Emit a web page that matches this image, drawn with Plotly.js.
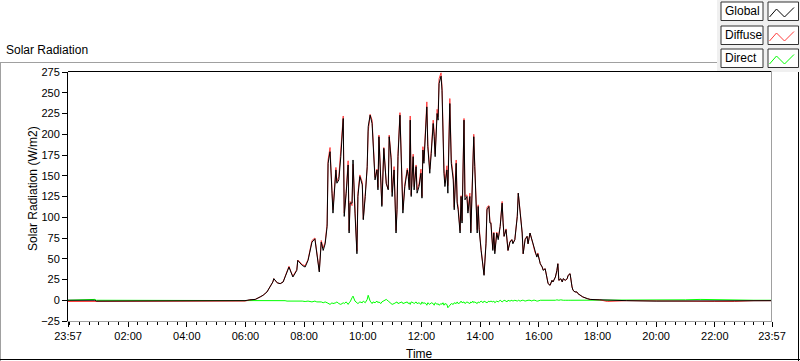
<!DOCTYPE html>
<html><head><meta charset="utf-8">
<script src="https://cdn.plot.ly/plotly-3.0.1.min.js"></script>
<style>html,body{margin:0;padding:0;background:#fff}#chart{width:800px;height:361px}</style>
</head><body><div id="chart"></div><script>
// time in minutes after midnight (23:57 of the previous day = -3)
const timeMin = [
 -3,30,52,55,120,240,300,340,359,
 369,380,390,396,404,410,416,418,425,431,
 437,441,445,449,453,457,465,467,476,482,
 488,496,502,506,511,515,519,523,527,529,
 533,537,539,545,547,551,555,560,562,566,
 570,572,574,578,580,584,588,590,594,599,
 601,605,609,611,615,619,621,625,629,631,
 633,637,639,643,648,652,654,658,660,664,
 668,670,672,676,680,682,686,691,693,695,
 697,699,703,705,709,711,715,719,721,723,
 725,729,731,733,737,740,744,746,748,752,
 754,756,760,762,764,766,768,772,774,778,
 781,785,787,791,793,795,799,801,803,807,
 809,813,815,819,821,823,825,827,829,834,
 836,838,842,844,846,848,852,854,858,860,
 862,866,868,870,874,877,881,885,887,889,
 893,895,897,901,905,907,911,916,918,922,
 926,928,932,936,938,942,946,948,952,956,
 958,963,967,969,973,977,979,983,987,989,
 994,997,999,1001,1005,1008,1010,1014,1018,1020,
 1024,1028,1030,1034,1038,1040,1044,1048,1050,1059,
 1065,1085,
 1100,1140,1200,1245,1260,1290,1320,1360,1400,1437
];
const globalW = [
 0,0,0,-1,-1,-1,-1,-1,-0.5,
 0.5,1,4,6,10,16,22,26,21,20,
 22,28,34,40,34,28,36,48,42,40,
 48,70,74,54,34,70,60,68,89,165,
 179,129,105,157,141,145,173,219,101,129,
 163,81,117,117,169,105,56,125,149,139,
 97,125,161,209,223,213,185,145,157,133,
 197,125,113,183,141,133,197,169,125,157,
 81,109,173,223,145,105,137,157,149,133,
 217,125,173,133,161,129,137,153,123,181,
 165,209,233,185,153,177,213,197,173,225,
 217,261,270,253,185,153,137,157,129,237,
 165,145,109,165,117,109,81,125,93,217,
 121,125,105,125,81,117,169,197,161,81,
 113,85,60,48,36,30,68,109,113,93,
 93,60,81,56,81,73,89,117,93,77,
 85,68,60,70,73,68,73,101,129,105,
 81,56,73,77,68,81,73,68,58,52,
 56,44,40,36,38,24,20,18,24,22,
 28,36,44,24,26,22,26,24,26,30,
 32,16,12,10,10,8,6,4,4,2,
 1,0.5,
 0,-0.5,-1,-1,-0.5,-1,-1,-1,-0.5,-0.5
];
const diffuseW = [
 -1.5,-1.5,-1.5,-1,-1,-1,-1,-1,-1,
 0.5,1,4,6,10,16,22,26,21,20,
 22,28.5,35,41,34.5,29,37,48.5,43,41.5,
 49,72,75,56,35.5,72,63,70,92,169,
 184,132,109,160,143,149,178,222,105,131,
 168,84,119,114,164,106,59,129,151,142,
 98,128,160,203,224,217,187,148,158,136,
 199,129,115,184,140,134,199,172,130,161,
 84,111,177,226,147,109,140,159,153,136,
 222,127,176,137,163,133,140,158,125,185,
 168,213,239,188,158,180,217,203,176,230,
 221,267,274,258,188,159,141,162,138,243,
 169,150,112,169,119,113,84,126,96,219,
 125,127,108,129,83,120,170,200,163,85,
 115,88,61,50,39,31,70,112,114,95,
 94,62,82,59,82,75,89,119,94,77,
 86,70,60,71,73,69,73,102,129,106,
 81,56,74,77,68,81,74,68,58,53,
 57,44,40,36.5,38,24,20.5,18,24,22,
 28,35.5,44,24,25.5,22,26,24,25.5,30,
 32,16,12,10,10,8,6,4,4,2,
 1,0.5,
 -1.5,-0.5,-1,-1.5,-1.5,-1.5,-1.5,-1.5,-0.5,-0.5
];
const directW = [
 0,1,1,0,0,0,0,0,0,
 0,0,0,0,0,0,0,0,0,0,
 0,-0.5,-1,-1,-0.5,-1,-1,-0.5,-1,-1.5,
 -1,-2,-1,-2,-1.5,-2,-3,-2,-3,-4,
 -5,-3,-4,-3,-2,-4,-5,-3,-4,-2,
 -5,-3,-2,3,5,-1,-3,-4,-2,-3,
 -1,-3,1,6,-1,-4,-2,-3,-1,-3,
 -2,-4,-2,-1,1,-1,-2,-3,-5,-4,
 -3,-2,-4,-3,-2,-4,-3,-2,-4,-3,
 -5,-2,-3,-4,-2,-4,-3,-5,-2,-4,
 -3,-4,-6,-3,-5,-3,-4,-6,-3,-5,
 -4,-6,-4,-5,-3,-6,-4,-5,-9,-6,
 -4,-5,-3,-4,-2,-4,-3,-1,-3,-2,
 -4,-2,-3,-4,-2,-3,-1,-3,-2,-4,
 -2,-3,-1,-2,-3,-1,-2,-3,-1,-2,
 -1,-2,-1,-3,-1,-2,0,-2,-1,0,
 -1,-2,0,-1,0,-1,0,-1,0,-1,
 0,0,-1,0,0,0,-1,0,0,-1,
 -1,0,0,-0.5,0,0,-0.5,0,0,0,
 0,0.5,0,0,0.5,0,0,0,0.5,0,
 0,0,0,0,0,0,0,0,0,0,
 0,0,
 0,0,0,0,0.5,1,0.5,0,0,0
];
const seriesNames = ['Global','Diffuse','Direct'];
const seriesColors = ['#000000','#ff3c3c','#00ff00'];
const xTickVals = [-3,120,240,360,480,600,720,840,960,1080,1200,1320,1437];
const xTickText = ['23:57','02:00','04:00','06:00','08:00','10:00','12:00','14:00','16:00','18:00','20:00','22:00','23:57'];
const chartTitle = 'Solar Radiation';
const yTitle = 'Solar Radiation (W/m2)';
const xTitle = 'Time';

const L=68, R=772, T=72, B=321;
function px(X){return (X-L)/(R-L);}
function py(Y){return (B-Y)/(B-T);}
const FONT = 'Liberation Sans, Arial, sans-serif';

const traces = [
 {x: timeMin, y: directW, name: seriesNames[2], mode:'lines', line:{color:seriesColors[2], width:1}},
 {x: timeMin, y: diffuseW, name: seriesNames[1], mode:'lines', line:{color:seriesColors[1], width:1}},
 {x: timeMin, y: globalW, name: seriesNames[0], mode:'lines', line:{color:seriesColors[0], width:1}}
];

function hline(x0,x1,y,color){return {type:'line',xref:'paper',yref:'paper',x0:px(x0),x1:px(x1),y0:py(y),y1:py(y),line:{color:color,width:1},layer:'above'};}
function vline(x,y0,y1,color){return {type:'line',xref:'paper',yref:'paper',x0:px(x),x1:px(x),y0:py(y0),y1:py(y1),line:{color:color,width:1},layer:'above'};}
function rect(x0,y0,x1,y1,fill,lc){return {type:'rect',xref:'paper',yref:'paper',x0:px(x0),x1:px(x1),y0:py(y1),y1:py(y0),fillcolor:fill,line:{color:lc||'rgba(0,0,0,0)',width:lc?1:0},layer:'below'};}

const shapes = [
 hline(0,717,62.5,'#a0a0a0'),
 vline(0.5,62,361,'#a0a0a0'),
 hline(0,800,359.5,'#000000'),
 vline(798.5,72,361,'#000000'),
 hline(68,772,71.5,'#000000'),
 vline(771.5,71,322,'#a0a0a0'),
 rect(717,0,800,72,'#f0f0f0')
];
const annotations = [
 {text: chartTitle, x:px(4), y:py(50), xref:'paper', yref:'paper', xanchor:'left', yanchor:'middle', showarrow:false, font:{family:FONT,size:12,color:'#000'}},
 {text: yTitle, x:px(33), y:py(189), xref:'paper', yref:'paper', xanchor:'center', yanchor:'middle', textangle:-90, showarrow:false, font:{family:FONT,size:12,color:'#000'}},
 {text: xTitle, x:px(419), y:py(354), xref:'paper', yref:'paper', xanchor:'center', yanchor:'middle', showarrow:false, font:{family:FONT,size:12,color:'#000'}}
];
const boxTops = [2,26,49];
const boxH = 18.5;
for (let i=0;i<3;i++){
 const y0 = boxTops[i];
 const lb = {type:'rect',xref:'paper',yref:'paper',x0:px(721),x1:px(763),y0:py(y0+boxH),y1:py(y0),fillcolor:'#ffffff',line:{color:'#333',width:1},layer:'above'};
 const sw = {type:'rect',xref:'paper',yref:'paper',x0:px(768),x1:px(798.5),y0:py(y0+boxH),y1:py(y0),fillcolor:'#ffffff',line:{color:'#333',width:1},layer:'above'};
 shapes.push(lb, sw);
 const pts = [[769.5,y0+15],[776.5,y0+7],[784.5,y0+15],[794,y0+5.5]];
 const path = 'M' + pts.map(p=>px(p[0])+','+py(p[1])).join(' L');
 shapes.push({type:'path',xref:'paper',yref:'paper',path:path,line:{color:seriesColors[i],width:1},layer:'above'});
 annotations.push({text: seriesNames[i], x:px(723), y:py(y0+boxH/2), xref:'paper', yref:'paper', xanchor:'left', yanchor:'middle', showarrow:false, font:{family:FONT,size:12,color:'#000'}});
}

const layout = {
 width:800, height:361,
 margin:{l:L, r:800-R, t:T, b:361-B, pad:0},
 paper_bgcolor:'#ffffff', plot_bgcolor:'#ffffff',
 showlegend:false,
 font:{family:FONT, size:11, color:'#000'},
 xaxis:{
  range:[-3,1437], tickmode:'array', tickvals:xTickVals, ticktext:xTickText,
  ticks:'outside', ticklen:5, tickcolor:'#000', tickwidth:1,
  showgrid:false, zeroline:false, showline:true, linecolor:'#a0a0a0', linewidth:1,
  minor:{tickmode:'linear', tick0:0, dtick:20, ticks:'outside', ticklen:3, tickcolor:'#000', showgrid:false},
  tickfont:{family:FONT,size:11,color:'#000'}
 },
 yaxis:{
  range:[-25,275], tickmode:'linear', tick0:-25, dtick:25,
  ticks:'outside', ticklen:5, tickcolor:'#000', tickwidth:1,
  showgrid:false, zeroline:false, showline:true, linecolor:'#000', linewidth:1,
  tickfont:{family:FONT,size:11,color:'#000'}
 },
 shapes: shapes,
 annotations: annotations
};
Plotly.newPlot('chart', traces, layout, {staticPlot:true, displayModeBar:false});
</script></body></html>
